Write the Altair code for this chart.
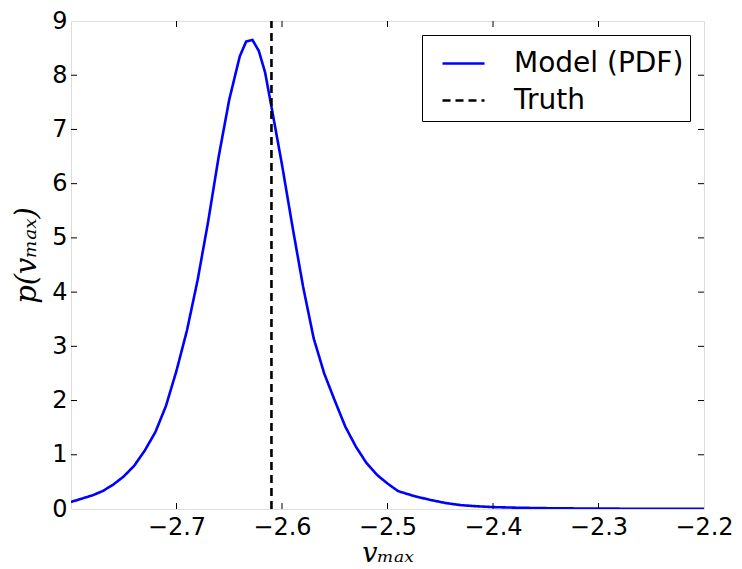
import altair as alt
import pandas as pd

# Curve (Model PDF)
x_vals = [-2.800, -2.790, -2.780, -2.770, -2.760, -2.750, -2.740, -2.730, -2.720, -2.710,
          -2.700, -2.690, -2.680, -2.670, -2.660, -2.650, -2.640, -2.634, -2.628, -2.622,
          -2.616, -2.610, -2.600, -2.590, -2.580, -2.570, -2.560, -2.550, -2.540, -2.530,
          -2.520, -2.510, -2.500, -2.490, -2.475, -2.460, -2.445, -2.430, -2.415, -2.400,
          -2.380, -2.360, -2.340, -2.320, -2.300, -2.280, -2.250, -2.220, -2.200]
y_vals = [0.13, 0.19, 0.25, 0.33, 0.45, 0.60, 0.80, 1.08, 1.42, 1.90,
          2.55, 3.30, 4.22, 5.30, 6.50, 7.55, 8.35, 8.62, 8.65, 8.45,
          8.05, 7.42, 6.35, 5.20, 4.10, 3.15, 2.50, 2.00, 1.52, 1.15,
          0.85, 0.63, 0.47, 0.33, 0.24, 0.17, 0.11, 0.07, 0.05, 0.035,
          0.025, 0.018, 0.013, 0.010, 0.008, 0.006, 0.004, 0.003, 0.002]

truth_x = -2.61
series_names = ["Model (PDF)", "Truth"]
x_ticks = [-2.7, -2.6, -2.5, -2.4, -2.3, -2.2]
x_inner_ticks = [-2.7, -2.6, -2.5, -2.4, -2.3]
y_ticks = [0, 1, 2, 3, 4, 5, 6, 7, 8, 9]
y_inner_ticks = [1, 2, 3, 4, 5, 6, 7, 8]

W, H = 633, 488

df = pd.DataFrame({"x": x_vals, "y": y_vals, "series": series_names[0]})
df_truth = pd.DataFrame({"x": [truth_x, truth_x], "y": [0, 9], "series": series_names[1]})
data = pd.concat([df, df_truth], ignore_index=True)

xscale = alt.Scale(domain=[-2.8, -2.2], nice=False, zero=False)
yscale = alt.Scale(domain=[0, 9], nice=False, zero=False)

lines = alt.Chart(data).mark_line(strokeWidth=2.6, clip=True).encode(
    x=alt.X("x:Q", scale=xscale,
            axis=alt.Axis(values=x_ticks, title="vₘₐₓ", format=".1f", tickSize=0,
                          domain=False, grid=False, labelFontSize=24,
                          labelFont="DejaVu Sans", labelColor="black",
                          labelPadding=6, labelFlush=False, labelOverlap=False,
                          titleFont="DejaVu Serif", titleFontStyle="italic",
                          titleFontWeight="normal", titleFontSize=27,
                          titleColor="black", titleY=52, titleX=W / 2,
                          titleBaseline="alphabetic", titleAlign="center")),
    y=alt.Y("y:Q", scale=yscale,
            axis=alt.Axis(values=y_ticks, title="p(vₘₐₓ)", format="d", tickSize=0,
                          domain=False, grid=False, labelFontSize=24,
                          labelFont="DejaVu Sans", labelColor="black",
                          labelPadding=4, labelFlush=False, labelOverlap=False,
                          titleFont="DejaVu Serif", titleFontStyle="italic",
                          titleFontWeight="normal", titleFontSize=29,
                          titleColor="black", titleX=-36, titleY=H / 2 - 10,
                          titleAngle=270, titleBaseline="alphabetic",
                          titleAlign="center")),
    color=alt.Color("series:N",
                    scale=alt.Scale(domain=series_names, range=["#0000ff", "black"]),
                    legend=alt.Legend(title=None, orient="top-right", offset=14,
                                      labelFontSize=28, labelFont="DejaVu Sans",
                                      labelColor="black", labelLimit=400,
                                      symbolType="stroke",
                                      symbolSize=1764, symbolStrokeWidth=2.6,
                                      symbolOffset=13, labelOffset=28,
                                      rowPadding=-7, padding=6,
                                      strokeColor="black", fillColor="white",
                                      cornerRadius=0)),
    strokeDash=alt.StrokeDash("series:N",
                              scale=alt.Scale(domain=series_names, range=[[1, 0], [8, 5]]),
                              legend=None),
    detail="series:N",
)

ticks_x = pd.DataFrame({"t": x_inner_ticks})
ticks_y = pd.DataFrame({"t": y_inner_ticks})

bx = alt.Chart(ticks_x).mark_rule(color="black", strokeWidth=1).encode(
    x=alt.X("t:Q", scale=xscale), y=alt.value(H), y2=alt.value(H - 6))
tx = alt.Chart(ticks_x).mark_rule(color="black", strokeWidth=1).encode(
    x=alt.X("t:Q", scale=xscale), y=alt.value(0), y2=alt.value(6))
ly = alt.Chart(ticks_y).mark_rule(color="black", strokeWidth=1).encode(
    y=alt.Y("t:Q", scale=yscale), x=alt.value(0), x2=alt.value(6))
ry = alt.Chart(ticks_y).mark_rule(color="black", strokeWidth=1).encode(
    y=alt.Y("t:Q", scale=yscale), x=alt.value(W), x2=alt.value(W - 6))

chart = alt.layer(lines, bx, tx, ly, ry).properties(
    width=W, height=H,
    autosize=alt.AutoSizeParams(type="none"),
    padding={"left": 63, "top": 13, "right": 30, "bottom": 58},
).configure_view(stroke="black", strokeWidth=1.2).configure(background="white")

chart.save("out.html", embed_options={"renderer": "svg", "actions": False})
